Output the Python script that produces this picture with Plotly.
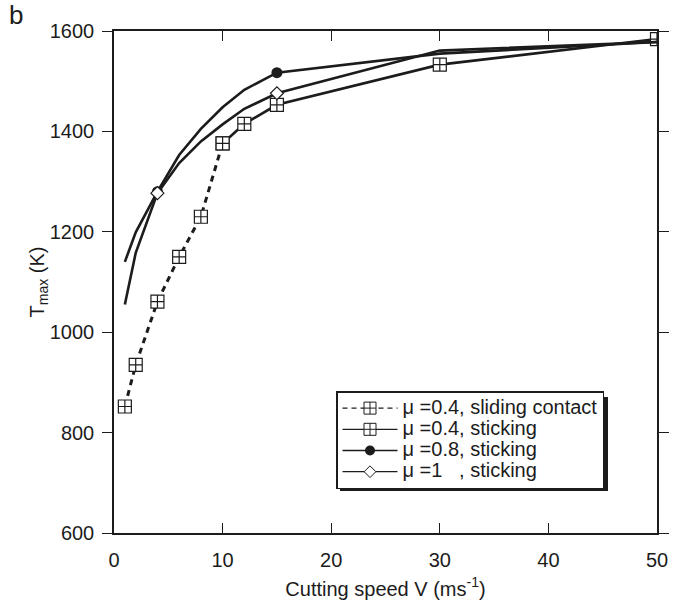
import plotly.graph_objects as go

# ---- data ----
speed_sliding = [1, 2, 4, 6, 8, 10]
T_sliding_04 = [852, 935, 1061, 1150, 1230, 1376]

speed_stick04 = [10, 12, 15, 30, 50]
T_stick_04 = [1376, 1415, 1453, 1533, 1584]

speed_stick = [1, 2, 4, 6, 8, 10, 12, 15, 30, 50]
T_stick_08 = [1140, 1199, 1280, 1353, 1405, 1448, 1483, 1517, 1555, 1578]
T_stick_10 = [1055, 1158, 1277, 1337, 1380, 1414, 1445, 1476, 1561, 1578]

marker_speeds = [4, 15]   # speeds where the μ=0.8 / μ=1 curves carry a symbol

names = ["μ =0.4, sliding contact", "μ =0.4, sticking",
         "μ =0.8, sticking", "μ =1\u00a0\u00a0\u00a0, sticking"]

x_ticks = [0, 10, 20, 30, 40, 50]
y_ticks = [600, 800, 1000, 1200, 1400, 1600]

INK = "#1c1c1c"
FONT = "Liberation Sans, Arial, sans-serif"

fig = go.Figure()


def pick(xs, ys, keep):
    return ([x for x in xs if x in keep],
            [y for x, y in zip(xs, ys) if x in keep])


SQ = dict(symbol="square-cross", size=13, color="white", opacity=1,
          line=dict(color=INK, width=1.2))

# μ=0.4 sliding contact (dashed)
fig.add_trace(go.Scatter(x=speed_sliding, y=T_sliding_04, mode="lines+markers",
                         line=dict(color=INK, width=3, dash="6px,5px"),
                         marker=SQ, showlegend=False))

# μ=0.4 sticking
fig.add_trace(go.Scatter(x=speed_stick04, y=T_stick_04, mode="lines+markers",
                         line=dict(color=INK, width=2.6),
                         marker=SQ, showlegend=False))

# μ=0.8 sticking
fig.add_trace(go.Scatter(x=speed_stick, y=T_stick_08, mode="lines",
                         line=dict(color=INK, width=2.6), showlegend=False))
mx, my = pick(speed_stick, T_stick_08, marker_speeds)
fig.add_trace(go.Scatter(x=mx, y=my, mode="markers", showlegend=False,
                         marker=dict(symbol="circle", size=11, color=INK, opacity=1)))

# μ=1 sticking
fig.add_trace(go.Scatter(x=speed_stick, y=T_stick_10, mode="lines",
                         line=dict(color=INK, width=2.6), showlegend=False))
mx, my = pick(speed_stick, T_stick_10, marker_speeds)
fig.add_trace(go.Scatter(x=mx, y=my, mode="markers", showlegend=False,
                         marker=dict(symbol="diamond", size=10, color="white", opacity=1,
                                     line=dict(color=INK, width=1.2))))

# legend entries (thin sample lines as in the reference)
leg_styles = [
    dict(line=dict(color=INK, width=1.3, dash="5px,4px"),
         marker=dict(symbol="square-cross", size=12, color="white",
                     line=dict(color=INK, width=1))),
    dict(line=dict(color=INK, width=1.3),
         marker=dict(symbol="square-cross", size=12, color="white",
                     line=dict(color=INK, width=1))),
    dict(line=dict(color=INK, width=1.3),
         marker=dict(symbol="circle", size=10, color=INK)),
    dict(line=dict(color=INK, width=1.3),
         marker=dict(symbol="diamond", size=9, color="white",
                     line=dict(color=INK, width=1))),
]
for nm, st in zip(names, leg_styles):
    fig.add_trace(go.Scatter(x=[None], y=[None], mode="lines+markers",
                             name='<span style="font-size:20px">' + nm + '</span>', **st))

# plot area geometry (px) used to place legend and its shadow
L, R, T, B = 114, 28, 31, 71
PW, PH = 685 - L - R, 604 - T - B
leg_left_px, leg_mid_px = 336, 440
leg_w_px, leg_h_px = 268, 94
sh = 4


def px_x(px):
    return (px - L) / PW


def px_y(py):
    return (604 - B - py) / PH


leg_top_px = leg_mid_px - leg_h_px / 2

fig.update_layout(
    width=685, height=604,
    margin=dict(l=L, r=R, t=T, b=B),
    paper_bgcolor="white", plot_bgcolor="white",
    font=dict(family=FONT, size=20, color=INK),
    showlegend=True,
    legend=dict(x=px_x(leg_left_px), y=px_y(leg_mid_px), xanchor="left", yanchor="middle",
                bgcolor="white", bordercolor=INK, borderwidth=1.5,
                font=dict(family=FONT, size=14, color=INK),
                itemwidth=55, tracegroupgap=0),
    shapes=[dict(type="rect", xref="paper", yref="paper", layer="above",
                 x0=px_x(leg_left_px + sh), x1=px_x(leg_left_px + leg_w_px + sh),
                 y0=px_y(leg_top_px + leg_h_px + sh), y1=px_y(leg_top_px + sh),
                 fillcolor=INK, line=dict(width=0))],
    xaxis=dict(range=[0, 50], tickvals=x_ticks, ticks="inside", ticklen=10,
               tickwidth=1.3, tickcolor=INK, showline=True, linecolor=INK,
               linewidth=1.5, mirror="ticks", showgrid=False, zeroline=False,
               ticklabelstandoff=8, automargin=False,
               title=dict(text="Cutting speed V (ms<sup>-1</sup>)", standoff=12,
                          font=dict(size=20))),
    yaxis=dict(range=[600, 1600], tickvals=y_ticks, ticks="outside", ticklen=10,
               tickwidth=1.3, tickcolor=INK, showline=True, linecolor=INK,
               linewidth=1.5, mirror="ticks", showgrid=False, zeroline=False,
               ticklabelstandoff=4, automargin=False,
               title=dict(text="T<sub>max</sub> (K)", standoff=0,
                          font=dict(size=20))),
    annotations=[dict(text="b", xref="paper", yref="paper", x=px_x(16), y=px_y(15),
                      xanchor="center", yanchor="middle", showarrow=False,
                      font=dict(family=FONT, size=26, color=INK))],
)

fig.write_html("out.html",
               config={"displayModeBar": False},
               post_script="document.body.style.margin='0px';"
                           "document.body.style.padding='0px';")
